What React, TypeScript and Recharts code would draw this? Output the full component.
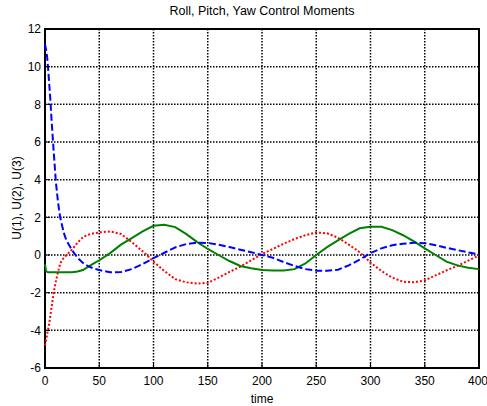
import React from "react";
import {
  LineChart,
  Line,
  XAxis,
  YAxis,
  CartesianGrid,
  ReferenceArea,
} from "recharts";

// time samples (denser at the start where U(1) and U(3) move fast)
const times = [
  0, 1, 2, 3, 4, 5, 6, 8, 10, 12, 14, 16, 18, 20, 25, 30, 35, 40, 45, 50, 60,
  70, 80, 90, 100, 110, 120, 130, 140, 150, 160, 170, 180, 190, 200, 210, 220,
  230, 240, 250, 260, 270, 280, 290, 300, 310, 320, 330, 340, 350, 360, 370,
  380, 390, 400,
];

// U(1) - blue dashed
const u1 = [
  11.2, 10.9, 10.5, 9.8, 9.0, 8.2, 7.2, 5.5, 3.9, 2.8, 2.0, 1.5, 1.05, 0.75,
  0.25, -0.15, -0.42, -0.6, -0.72, -0.8, -0.92, -0.9, -0.75, -0.48, -0.17, 0.12,
  0.4, 0.58, 0.66, 0.64, 0.55, 0.42, 0.28, 0.15, 0.0, -0.15, -0.38, -0.58,
  -0.75, -0.83, -0.84, -0.78, -0.55, -0.25, 0.1, 0.35, 0.52, 0.6, 0.65, 0.63,
  0.52, 0.38, 0.26, 0.14, 0.03,
];

// U(2) - green solid
const u2 = [
  -0.5, -0.85, -0.9, -0.92, -0.92, -0.92, -0.92, -0.92, -0.92, -0.92, -0.92,
  -0.92, -0.92, -0.92, -0.92, -0.88, -0.8, -0.62, -0.45, -0.28, 0.1, 0.55, 0.9,
  1.25, 1.55, 1.6, 1.48, 1.12, 0.7, 0.32, 0.0, -0.32, -0.58, -0.7, -0.8, -0.82,
  -0.82, -0.75, -0.45, 0.0, 0.42, 0.78, 1.12, 1.42, 1.5, 1.5, 1.32, 1.05, 0.72,
  0.35, 0.0, -0.35, -0.55, -0.68, -0.75,
];

// U(3) - red dotted
const u3 = [
  -4.8, -4.5, -4.2, -3.9, -3.6, -3.2, -2.8, -2.0, -1.4, -0.9, -0.45, -0.25,
  -0.1, 0.0, 0.3, 0.65, 0.95, 1.08, 1.15, 1.2, 1.25, 1.12, 0.68, 0.2, -0.35,
  -0.85, -1.28, -1.45, -1.52, -1.48, -1.2, -0.9, -0.62, -0.28, 0.05, 0.32, 0.6,
  0.85, 1.05, 1.2, 1.15, 0.92, 0.55, 0.15, -0.4, -0.85, -1.2, -1.42, -1.45,
  -1.35, -1.08, -0.82, -0.58, -0.3, -0.02,
];

const xTicks = [0, 50, 100, 150, 200, 250, 300, 350, 400];
const yTicks = [-6, -4, -2, 0, 2, 4, 6, 8, 10, 12];

const FONT = "'Liberation Sans', Arial, sans-serif";

export default function App() {
  const data = times.map((t, i) => ({ t, u1: u1[i], u2: u2[i], u3: u3[i] }));

  return (
    <div
      style={{
        position: "absolute",
        left: 0,
        top: 0,
        width: 487,
        height: 406,
        background: "#fff",
        fontFamily: FONT,
      }}
    >
      <div
        style={{
          position: "absolute",
          left: 45,
          width: 434,
          top: 4,
          textAlign: "center",
          fontSize: 12.5,
          color: "#000",
        }}
      >
        Roll, Pitch, Yaw Control Moments
      </div>
      <LineChart
        width={487}
        height={406}
        data={data}
        margin={{ top: 29, right: 8, bottom: 0, left: 0 }}
      >
        <CartesianGrid stroke="#000" strokeDasharray="1.5 1.5" strokeWidth={1.5} />
        <XAxis
          dataKey="t"
          type="number"
          domain={[0, 400]}
          ticks={xTicks}
          height={38}
          tickSize={-5}
          tickMargin={13}
          tickLine={{ stroke: "#000", strokeWidth: 1 }}
          axisLine={false}
          tick={{ fill: "#000", fontSize: 12, fontFamily: FONT }}
          label={{
            content: () => (
              <text
                x={262}
                y={403}
                textAnchor="middle"
                fontSize={12}
                fontFamily={FONT}
                fill="#000"
              >
                time
              </text>
            ),
          }}
        />
        <YAxis
          type="number"
          domain={[-6, 12]}
          ticks={yTicks}
          width={45}
          tickSize={-5}
          tickMargin={9}
          tickLine={{ stroke: "#000", strokeWidth: 1 }}
          axisLine={false}
          interval={0}
          tick={{ fill: "#000", fontSize: 12, fontFamily: FONT }}
          label={{
            content: () => (
              <text
                x={17}
                y={198}
                transform="rotate(-90 17 198)"
                textAnchor="middle"
                dominantBaseline="central"
                fontSize={12}
                fontFamily={FONT}
                fill="#000"
              >
                U(1), U(2), U(3)
              </text>
            ),
          }}
        />
        <Line
          dataKey="u3"
          stroke="#ff0000"
          strokeWidth={2}
          strokeDasharray="2 2"
          dot={false}
          isAnimationActive={false}
        />
        <Line
          dataKey="u2"
          stroke="#008000"
          strokeWidth={2}
          dot={false}
          isAnimationActive={false}
        />
        <Line
          dataKey="u1"
          stroke="#0000ff"
          strokeWidth={2}
          strokeDasharray="7 3"
          dot={false}
          isAnimationActive={false}
        />
        <ReferenceArea
          x1={0}
          x2={400}
          y1={-6}
          y2={12}
          fill="none"
          stroke="#000"
          strokeWidth={2}
          ifOverflow="visible"
        />
      </LineChart>
    </div>
  );
}
